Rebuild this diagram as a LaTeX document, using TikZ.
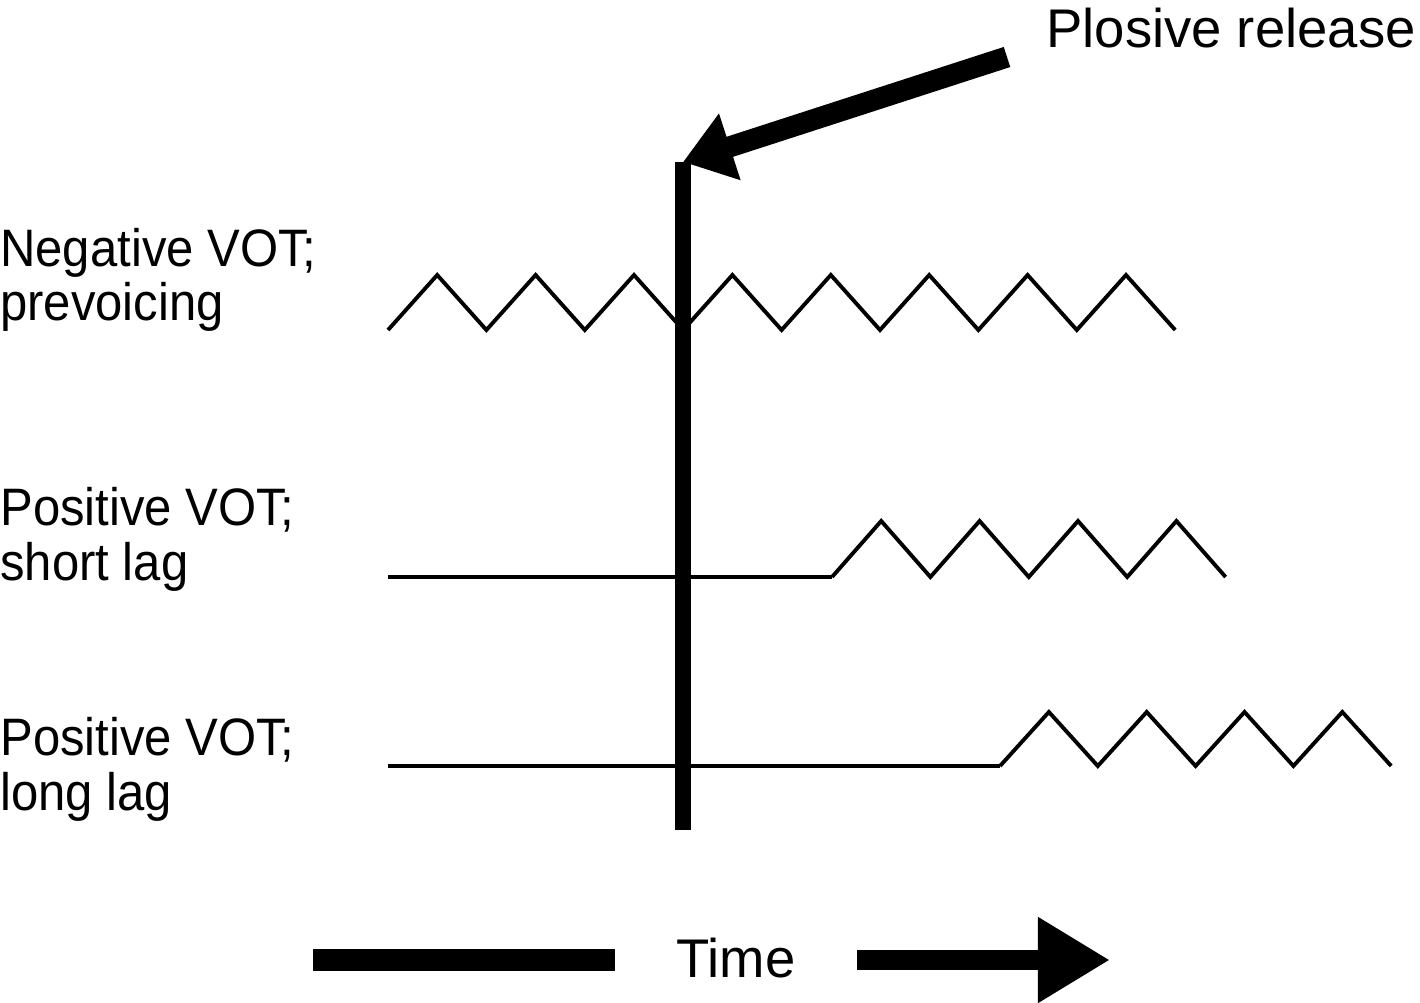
\documentclass[tikz,border=0pt]{standalone}
\usepackage{fontspec}
\setmainfont{Liberation Sans}
\newfontfamily\narrowfont[FakeStretch=0.93]{Liberation Sans}
\usetikzlibrary{arrows.meta}
\tikzset{
  vlabel/.style={anchor=base west, align=left, inner sep=0pt,
    font=\narrowfont\fontsize{30}{31}\selectfont},
  biglabel/.style={inner sep=0pt, font=\fontsize{31}{36}\selectfont},
  wave/.style={line width=2.2pt, line join=miter},
  flat/.style={line width=2.8pt},
}
\begin{document}
\begin{tikzpicture}[x=0.02cm, y=-0.02cm]
        \useasboundingbox (0,0) rectangle (1420,1003);
        % labels (base = last line)
        \node[vlabel] (prevoice) at (0,321) {Negative VOT;\\prevoicing};
        \node[vlabel] (shortlag) at (0,580) {Positive VOT;\\short lag};
        \node[vlabel] (longlag) at (0,810) {Positive VOT;\\long lag};
        \node[biglabel, anchor=base west] (plosive) at (1046,48) {Plosive release};
        \node[biglabel, anchor=base] (time) at (736,977) {Time};
        % release point
        \coordinate (release) at (683,162);
        \coordinate (releaseend) at (683,830);
        \coordinate (arrowstart) at (1007,57);
        % voicing traces
        \draw[wave] (388,330) \foreach \i in {1,...,8} {-- ++(49.2,-55) -- ++(49.2,55)};
        \draw[flat] (388,577) -- (832,577);
        \draw[wave] (832,577) \foreach \i in {1,...,4} {-- ++(49.2,-56) -- ++(49.2,56)};
        \draw[flat, line width=2.5pt] (388,766) -- (1000,766);
        \draw[wave] (1000,766) \foreach \i in {1,...,4} {-- ++(48.9,-54) -- ++(48.9,54)};
        % release line and arrow
        \draw[line width=9.6pt] (releaseend) -- (release);
        \draw[line width=12pt, -{Triangle[length=28pt, width=38pt]}] (arrowstart) -- (release);
        % time axis
        \coordinate (tleft) at (313,960);
        \coordinate (tmid) at (615,960);
        \coordinate (tarrow) at (857,960);
        \coordinate (ttip) at (1110,960);
        \draw[line width=12pt] (tleft) -- (tmid);
        \draw[line width=11.3pt, -{Triangle[length=41pt, width=46pt]}] (tarrow) -- (ttip);
      \end{tikzpicture}
\end{document}
